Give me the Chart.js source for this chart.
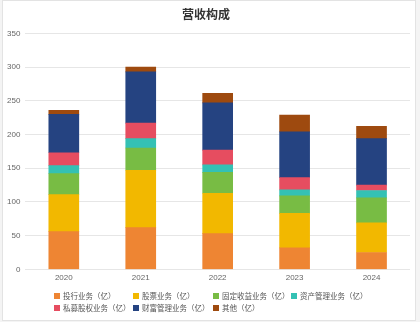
<!DOCTYPE html>
<html>
<head>
<meta charset="utf-8">
<script src="https://cdn.jsdelivr.net/npm/chart.js@4/dist/chart.umd.min.js"></script>
<style>
  body { margin: 0; background: #f4f4f4; }
  #card {
    position: absolute; left: 2px; top: 0; width: 412px; height: 319px;
    background: #fff; border: 1px solid #e3e3e3;
  }
  #chart { position: absolute; left: 0; top: 0; }
  #legend {
    position: absolute; left: 54px; top: 290px; width: 330px;
    display: grid; grid-template-columns: 79px 80px 78px 90px; row-gap: 1px;
    font: 7.5px "Noto Sans CJK SC", sans-serif; color: #555;
  }
  #legend span { display: flex; align-items: center; white-space: nowrap; height: 11px; }
  #legend i { display: inline-block; width: 6px; height: 6px; margin-right: 3px; }
</style>
</head>
<body>
<div id="card"></div>
<canvas id="chart" width="420" height="322"></canvas>
<div id="legend"></div>
<script>
const years = ["2020", "2021", "2022", "2023", "2024"];
const seriesNames = ["投行业务（亿）", "股票业务（亿）", "固定收益业务（亿）", "资产管理业务（亿）",
  "私募股权业务（亿）", "财富管理业务（亿）", "其他（亿）"];
const investBanking = [56, 62, 53, 32, 25];
const equities = [55, 85, 60, 51, 44];
const fixedIncome = [31, 33, 31, 26, 37];
const assetMgmt = [12, 14, 11, 9, 11];
const privateEquity = [19, 23, 22, 18, 8];
const wealthMgmt = [57, 76, 70, 68, 69];
const others = [6, 7, 14, 25, 18];
const colors = ["#EE8533", "#F2B800", "#78BC44", "#34C1B4", "#E64D60", "#254381", "#9E4A0F"];

(() => {
  const ctx = document.getElementById("chart");
  const values = [investBanking, equities, fixedIncome, assetMgmt, privateEquity, wealthMgmt, others];

  const data = {
    labels: years,
    datasets: values.map((v, i) => ({
      label: seriesNames[i],
      data: v,
      backgroundColor: colors[i],
      borderWidth: 0,
      barThickness: 30,
    })),
  };

  const config = {
    type: "bar",
    data: data,
    options: {
      responsive: false,
      animation: false,
      layout: {
        padding: { left: 2, right: 10, top: 0, bottom: 35 },
      },
      plugins: {
        legend: { display: false },
        tooltip: { enabled: false },
        title: {
          display: true,
          text: "营收构成",
          color: "#333",
          font: { family: "Noto Sans CJK SC", size: 12, weight: "bold" },
          padding: { top: 7, bottom: 12 },
        },
      },
      scales: {
        x: {
          stacked: true,
          grid: { display: false, drawTicks: false },
          border: { display: false },
          ticks: { color: "#666", font: { size: 8 }, padding: 4 },
        },
        y: {
          stacked: true,
          min: 0,
          max: 350,
          border: { display: false },
          grid: { color: "#e6e6e6", drawTicks: false },
          ticks: { stepSize: 50, color: "#666", font: { size: 8 }, padding: 5 },
        },
      },
    },
  };

  const chart = new Chart(ctx, config);

  const legend = document.getElementById("legend");
  chart.data.datasets.forEach((ds) => {
    const item = document.createElement("span");
    item.innerHTML = `<i style="background:${ds.backgroundColor}"></i>${ds.label}`;
    legend.appendChild(item);
  });
})();
</script>
</body>
</html>
